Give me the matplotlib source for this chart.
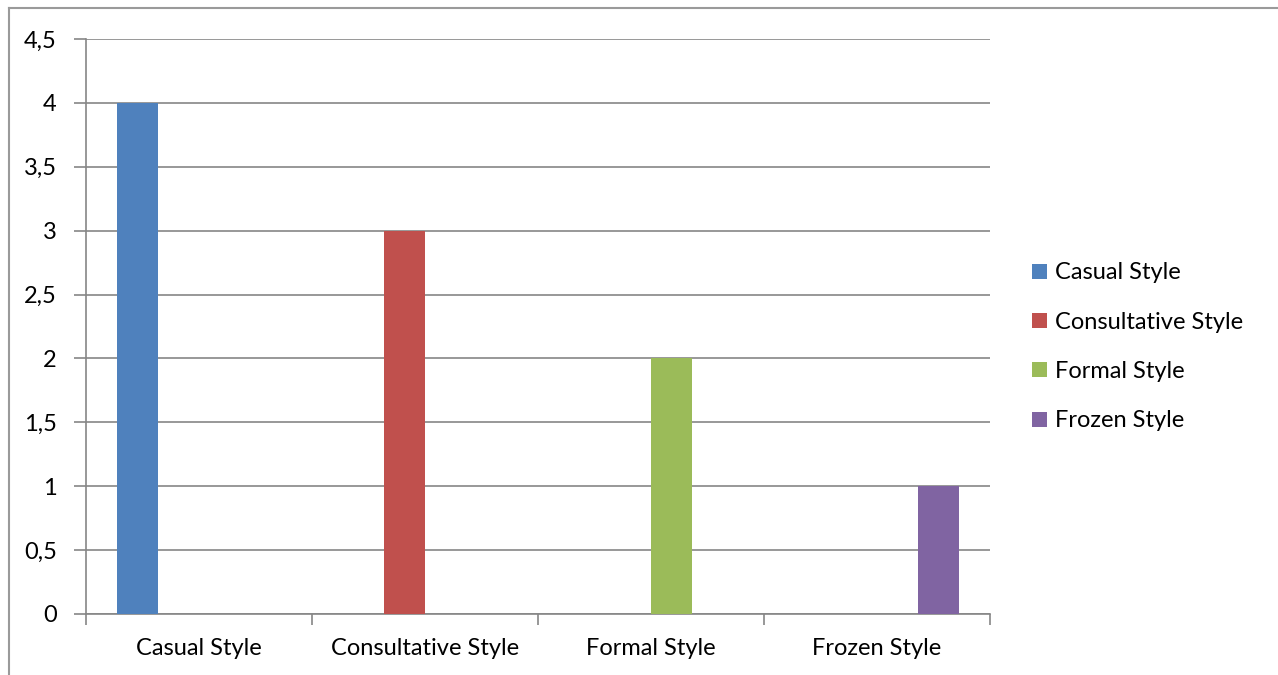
import matplotlib
matplotlib.use("Agg")
import matplotlib.pyplot as plt
from matplotlib.ticker import FuncFormatter, FixedLocator
from matplotlib.lines import Line2D
import numpy as np

categories = ["Casual Style", "Consultative Style", "Formal Style", "Frozen Style"]
series_names = ["Casual Style", "Consultative Style", "Formal Style", "Frozen Style"]
casual = [4, 0, 0, 0]
consultative = [0, 3, 0, 0]
formal = [0, 0, 2, 0]
frozen = [0, 0, 0, 1]
series_values = [casual, consultative, formal, frozen]
colors = ["#4F81BD", "#C0504D", "#9BBB59", "#8064A2"]
y_ticks = [0, 0.5, 1, 1.5, 2, 2.5, 3, 3.5, 4, 4.5]

plt.rcParams['font.family'] = ['Lato', 'DejaVu Sans']
FS = 17

fig = plt.figure(figsize=(12.78, 6.75), dpi=100)
ax = fig.add_axes([86/1278, 1-614/675, (990-86)/1278, (614-39)/675])

n = len(series_values)
w = 1/5.5
x = np.arange(len(categories))
for i, (name, vals, c) in enumerate(zip(series_names, series_values, colors)):
    ax.bar(x + (i - (n-1)/2)*w, vals, width=w, color=c, label=name, zorder=3)

grid_color = "#868686"
ax.set_ylim(0, 4.5)
ax.set_xlim(-0.5, len(categories)-0.5)
ax.set_yticks(y_ticks)
ax.yaxis.set_major_formatter(FuncFormatter(lambda v, p: (f"{v:g}").replace(".", ",")))
ax.grid(axis='y', color=grid_color, linewidth=1.2, zorder=0)
ax.set_axisbelow(True)

ax.xaxis.set_major_locator(FixedLocator(np.arange(-0.5, len(categories), 1.0)))
ax.xaxis.set_minor_locator(FixedLocator(x))
ax.set_xticklabels([], minor=False)
ax.set_xticklabels(categories, minor=True)
ax.tick_params(axis='x', which='major', length=8, width=1.2, color=grid_color, direction='out')
ax.tick_params(axis='x', which='minor', length=0, pad=17, labelsize=FS)
ax.tick_params(axis='y', length=9, width=1.2, color=grid_color, pad=12, labelsize=FS)

for s in ['top', 'right']:
    ax.spines[s].set_visible(False)
for s in ['left', 'bottom']:
    ax.spines[s].set_color(grid_color)
    ax.spines[s].set_linewidth(1.2)

leg = ax.legend(loc='upper left', bbox_to_anchor=(1023/1278, 1-253/675), bbox_transform=fig.transFigure,
                frameon=False, fontsize=FS, handlelength=0.6, handleheight=0.6,
                handletextpad=0.35, labelspacing=1.2, borderaxespad=0)

# outer chart border
fig.add_artist(Line2D([9/1278, 9/1278], [0, 1-8/675], transform=fig.transFigure, color="#9a9a9a", linewidth=1.5))
fig.add_artist(Line2D([9/1278, 1], [1-8/675, 1-8/675], transform=fig.transFigure, color="#9a9a9a", linewidth=1.5))

fig.savefig("out.png", dpi=100)
